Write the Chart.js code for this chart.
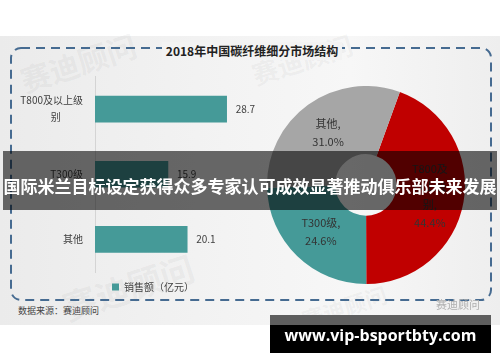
<!DOCTYPE html>
<html>
<head>
<meta charset="utf-8">
<script src="https://cdn.jsdelivr.net/npm/chart.js@4.4.0/dist/chart.umd.min.js"></script>
<style>
  html, body { margin: 0; padding: 0; background: #fff; }
  #page { position: relative; width: 500px; height: 362px; overflow: hidden; font-family: "Noto Sans CJK SC", sans-serif; }
  #img { position: absolute; left: 0; top: 36px; width: 500px; height: 289px;
         background: linear-gradient(90deg, #ebebeb 0%, #f3f3f3 45%, #f7f7f7 70%, #eeeeee 100%); }
  .wm { position: absolute; color: rgba(120,120,120,0.08); font-weight: bold; transform: rotate(-18deg); white-space: nowrap; }
  #frame { position: absolute; left: 0; top: 0; }
  #title { position: absolute; left: 162px; top: 42px; width: 180px; text-align: center; font-size: 12px; font-weight: bold;
           color: #222; background: #f3f3f3; line-height: 18px; }
  #src { position: absolute; left: 18px; top: 304px; font-size: 9px; color: #444; }
  #wx { position: absolute; left: 436px; top: 296px; font-size: 11px; color: #b0b0b0; }
  #barc { position: absolute; left: 0; top: 56px; }
  #piec { position: absolute; left: 267px; top: 86px; }
  #banner { position: absolute; left: 3px; top: 151px; width: 494px; height: 59px; background: rgba(0,0,0,0.58); }
  #banner .txt { position: absolute; left: 0; top: 0; width: 494px; height: 59px; color: #fff; font-size: 17px; font-weight: bold;
                 line-height: 69px; text-align: center; white-space: nowrap; }
  #url { position: absolute; left: 270px; top: 315px; width: 221px; height: 38px; background: #000; }
  #url .top { position: absolute; left: 0; top: 0; width: 221px; height: 10px; background: #5e5e5e; }
  #url .txt { position: absolute; left: 0; top: 0; width: 221px; height: 38px; line-height: 40px; text-align: center;
              color: #fff; font-family: "Open Sans", sans-serif; font-weight: bold; font-size: 16px; }
</style>
</head>
<body>
<div id="page">
  <div id="img"></div>
  <div class="wm" style="left:18px;top:40px;font-size:30px;">赛迪顾问</div>
  <div class="wm" style="left:60px;top:262px;font-size:34px;">赛迪顾问</div>
  <div class="wm" style="left:300px;top:290px;font-size:22px;">赛迪顾问</div>
  <div class="wm" style="left:250px;top:40px;font-size:26px;">赛迪顾问</div>
  <svg id="frame" width="500" height="362">
    <rect x="11" y="48" width="480" height="252" rx="10" ry="10" fill="none" stroke="#466b91" stroke-width="2" stroke-dasharray="9 6"/>
  </svg>
  <div id="title">2018年中国碳纤维细分市场结构</div>
  <canvas id="barc" width="306" height="246"></canvas>
  <canvas id="piec" width="198" height="198"></canvas>
  <div id="src">数据来源：赛迪顾问</div>
  <div id="wx">赛迪顾问</div>
  <div id="banner"><div class="txt">国际米兰目标设定获得众多专家认可成效显著推动俱乐部未来发展</div></div>
  <div id="url"><div class="top"></div><div class="txt">www.vip-bsportbty.com</div></div>
</div>
<script>
// bar part
var barCategories = [['T800及以上级', '别\u3000\u3000 '], 'T300级', '其他'];
var barValues = [28.7, 15.9, 20.1];
var barSeriesName = '销售额（亿元）';

// doughnut part
var pieCategories = ['T800及以上级别', 'T300级', '其他'];
var pieShares = [44.4, 24.6, 31.0];
var pieLabelLines = [['T800及', '以上级', '别,', '44.4%'], ['T300级,', '24.6%'], ['其他,', '31.0%']];

var teal = '#459a98';
var fontName = '"Noto Sans CJK SC", sans-serif';

var barValueLabels = {
  id: 'barValueLabels',
  afterDatasetsDraw: function (chart) {
    var ctx = chart.ctx;
    var meta = chart.getDatasetMeta(0);
    ctx.save();
    ctx.font = '10px ' + fontName;
    ctx.fillStyle = '#404040';
    ctx.textAlign = 'left';
    ctx.textBaseline = 'middle';
    meta.data.forEach(function (bar, i) {
      ctx.fillText(barValues[i].toFixed(1), bar.x + 9, bar.y);
    });
    ctx.restore();
  }
};

new Chart(document.getElementById('barc'), {
  type: 'bar',
  data: {
    labels: barCategories,
    datasets: [{
      label: barSeriesName,
      data: barValues,
      backgroundColor: teal,
      barThickness: 26
    }]
  },
  options: {
    responsive: false,
    animation: false,
    indexAxis: 'y',
    layout: { padding: { top: 7, left: 0, right: 0, bottom: 0 } },
    scales: {
      x: { display: false, min: 0, max: 46 },
      y: {
        afterFit: function (s) { s.width = 95; },
        grid: { display: false, drawTicks: false },
        border: { display: true, color: '#d4d4d4', width: 1 },
        ticks: { padding: 12, color: '#404040', font: { family: fontName, size: 10, lineHeight: 1.7 } }
      }
    },
    plugins: {
      legend: {
        position: 'bottom',
        labels: { boxWidth: 7, boxHeight: 7, color: '#404040', font: { family: fontName, size: 10 } }
      },
      tooltip: { enabled: false }
    }
  },
  plugins: [barValueLabels]
});

var pieInsideLabels = {
  id: 'pieInsideLabels',
  afterDatasetsDraw: function (chart) {
    var ctx = chart.ctx;
    var meta = chart.getDatasetMeta(0);
    ctx.save();
    ctx.font = '11px ' + fontName;
    ctx.fillStyle = '#333333';
    ctx.textAlign = 'center';
    ctx.textBaseline = 'middle';
    meta.data.forEach(function (arc, i) {
      var p = arc.tooltipPosition();
      var lines = pieLabelLines[i];
      var lh = 18;
      var y0 = p.y - (lines.length - 1) * lh / 2;
      lines.forEach(function (t, j) { ctx.fillText(t, p.x, y0 + j * lh); });
    });
    ctx.restore();
  }
};

new Chart(document.getElementById('piec'), {
  type: 'doughnut',
  data: {
    labels: pieCategories,
    datasets: [{
      data: pieShares,
      backgroundColor: ['#c00000', teal, '#a6a6a6'],
      borderWidth: 0,
      hoverOffset: 0
    }]
  },
  options: {
    responsive: false,
    animation: false,
    rotation: 20,
    cutout: '31%',
    layout: { padding: 0 },
    plugins: { legend: { display: false }, tooltip: { enabled: false } }
  },
  plugins: [pieInsideLabels]
});
</script>
</body>
</html>
